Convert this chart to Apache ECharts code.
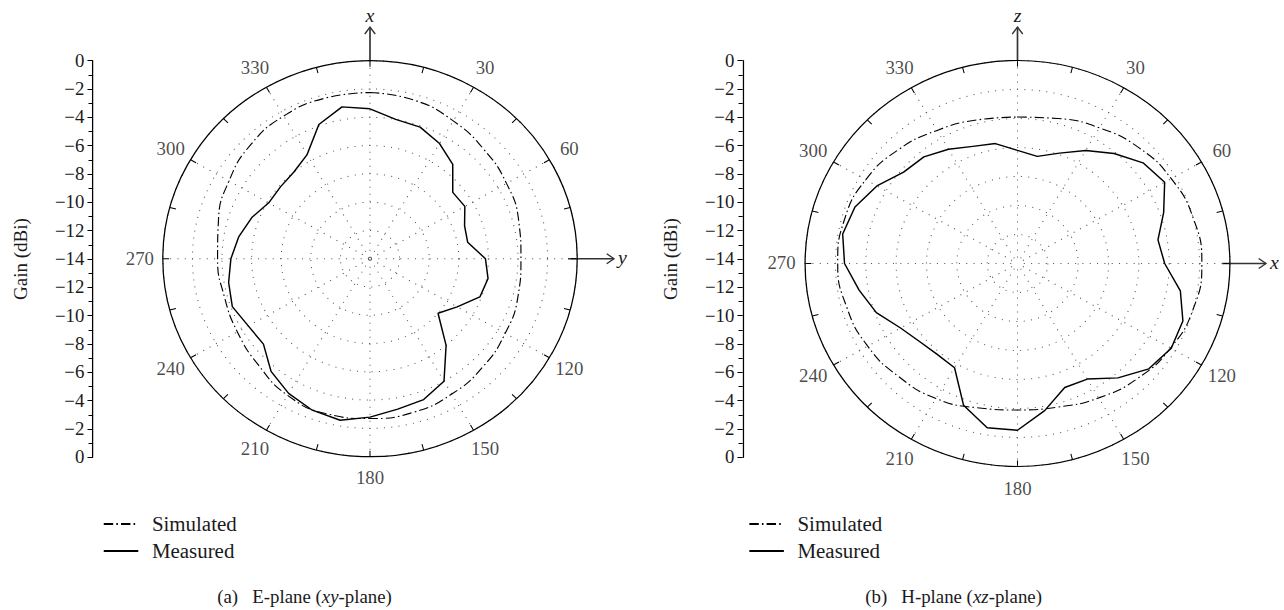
<!DOCTYPE html>
<html>
<head>
<meta charset="utf-8">
<script src="https://cdn.jsdelivr.net/npm/echarts@6/dist/echarts.min.js"></script>
<style>
  html, body { margin: 0; padding: 0; background: #fff; overflow: hidden; }
  /* the printed figure is a little wider than tall, so stretch the whole chart */
  #main { width: 1227px; height: 610px; transform: scaleX(1.0464); transform-origin: 0 0; }
</style>
</head>
<body>
<div id="main"></div>
<script>
// measured points, every 10 degrees
const measAngles = [0, 10, 20, 30, 40, 50, 60, 70, 80, 90, 100, 110, 120, 130, 140, 150, 160, 170,
  180, 190, 200, 210, 220, 230, 240, 250, 260, 270, 280, 290, 300, 310, 320, 330, 340, 350];
const measuredE = [-3.4, -4.0, -4.1, -4.6, -5.3, -6.7, -6.6, -7.2, -7.3, -6.2, -5.9, -6.1, -7.2, -8.0, -6.0, -4.0, -3.4, -3.2,
  -2.8, -2.4, -2.6, -3.0, -3.6, -4.6, -4.5, -4.1, -4.3, -4.6, -5.0, -5.5, -6.1, -6.1, -6.0, -5.5, -3.9, -3.1];
const measuredH = [-6.2, -6.5, -5.9, -5.0, -4.1, -3.2, -2.8, -3.75, -4.6, -4.3, -3.1, -2.4, -2.3, -2.7, -3.7, -4.8, -4.9, -3.7,
  -2.5, -2.5, -3.6, -5.7, -5.8, -5.6, -5.1, -4.1, -3.4, -2.6, -2.3, -2.6, -3.3, -4.2, -4.4, -4.9, -5.4, -5.6];

// simulated curves, read every 15 degrees
const simAngles = [0, 15, 30, 45, 60, 75, 90, 105, 120, 135, 150, 165,
  180, 195, 210, 225, 240, 255, 270, 285, 300, 315, 330, 345];
const simulatedE = [-2.25, -2.4, -2.75, -3.1, -3.35, -3.6, -3.8, -3.65, -3.45, -3.2, -2.95, -2.75,
  -2.7, -2.65, -2.85, -3.35, -3.65, -3.8, -3.7, -3.4, -3.0, -2.6, -2.35, -2.25];
const simulatedH = [-3.9, -3.65, -3.2, -2.7, -2.3, -2.0, -1.85, -2.0, -2.35, -2.8, -3.3, -3.75,
  -3.9, -3.7, -3.25, -2.95, -2.6, -2.35, -2.15, -2.2, -2.45, -2.9, -3.4, -3.75];

// angle labels printed round the rim (0 and 90 carry the axis arrows instead)
const angleLabels = [30, 60, 120, 150, 180, 210, 240, 270, 300, 330];

const serif = 'Liberation Serif';
const ink = '#1a1a1a';
const K = 1.0464; // horizontal stretch applied by css
const labelRadius = 1.55; // dB beyond the rim where the angle labels sit

function loop(angles, vals) {
  const d = angles.map((a, i) => [vals[i], a]);
  d.push([vals[0], 360]);
  return d;
}

function angleAxis(idx) {
  return {
    polarIndex: idx,
    type: 'value',
    min: 0,
    max: 360,
    interval: 30,
    startAngle: 90,
    clockwise: true,
    axisLine: { show: true, lineStyle: { color: '#000', width: 1.2 } },
    axisTick: { show: true, inside: true, length: 6, lineStyle: { color: '#000', width: 1 } },
    minorTick: { show: true, splitNumber: 2, length: 6, lineStyle: { color: '#000', width: 1 } },
    splitLine: { show: true, lineStyle: { color: '#555', width: 1, type: [1, 6] } },
    axisLabel: { show: false }
  };
}

function radiusAxis(idx) {
  return {
    polarIndex: idx,
    type: 'value',
    min: -14,
    max: 0,
    interval: 2,
    axisLine: { show: false },
    axisTick: { show: false },
    axisLabel: { show: false },
    splitLine: { show: true, lineStyle: { color: '#555', width: 1, type: [1, 6] } }
  };
}

function gainAxis(idx) {
  return {
    gridIndex: idx,
    type: 'value',
    min: -14,
    max: 14,
    interval: 2,
    position: 'left',
    axisLine: { show: true, lineStyle: { color: '#000', width: 1.2 } },
    axisTick: { show: true, length: 5, lineStyle: { color: '#000' } },
    minorTick: { show: true, splitNumber: 2, length: 4, lineStyle: { color: '#000' } },
    splitLine: { show: false },
    axisLabel: {
      fontFamily: serif,
      fontSize: 18,
      color: ink,
      margin: 8,
      formatter: v => {
        const g = Math.abs(v) - 14;
        return g === 0 ? '0' : '\u2212' + Math.abs(g);
      }
    },
    name: 'Gain (dBi)',
    nameLocation: 'middle',
    nameGap: 60,
    nameRotate: 90,
    nameTextStyle: { fontFamily: serif, fontSize: 19, color: ink }
  };
}

function simSeries(idx, data) {
  return {
    name: 'Simulated',
    type: 'line',
    coordinateSystem: 'polar',
    polarIndex: idx,
    data: data,
    smooth: true,
    symbol: 'none',
    silent: true,
    itemStyle: { color: '#000' },
    lineStyle: { color: '#000', width: 1.1, type: [9, 3, 1.5, 3] }
  };
}

function measSeries(idx, data) {
  return {
    name: 'Measured',
    type: 'line',
    coordinateSystem: 'polar',
    polarIndex: idx,
    data: data,
    symbol: 'none',
    silent: true,
    z: 3,
    itemStyle: { color: '#000' },
    lineStyle: { color: '#000', width: 1.4 }
  };
}

// rim labels: invisible points just outside the circle, labelled with their angle
function rimLabels(idx) {
  return {
    type: 'scatter',
    coordinateSystem: 'polar',
    polarIndex: idx,
    clip: false,
    silent: true,
    symbolSize: 1,
    itemStyle: { color: 'transparent' },
    data: angleLabels.map(a => [labelRadius, a]),
    label: {
      show: true,
      position: 'inside',
      formatter: p => String(p.value[1]),
      fontFamily: serif,
      fontSize: 18,
      color: ink
    }
  };
}

function legend(left) {
  return {
    data: ['Simulated', 'Measured'],
    orient: 'vertical',
    left: left,
    top: 509,
    itemWidth: 33,
    itemHeight: 14,
    itemGap: 7,
    selectedMode: false,
    itemStyle: { opacity: 0 },
    textStyle: { fontFamily: serif, fontSize: 20, color: ink, padding: [0, 0, 0, 8] }
  };
}

function caption(left, text) {
  return {
    text: text,
    left: left,
    top: 583,
    textStyle: {
      fontFamily: serif,
      fontSize: 18,
      fontWeight: 'normal',
      color: ink,
      rich: { i: { fontFamily: serif, fontStyle: 'italic', fontSize: 18, color: ink } }
    }
  };
}

// axis arrows drawn as plain decoration
function arrowUp(x, y1, y2, label) {
  return [
    { type: 'line', shape: { x1: x, y1: y1, x2: x, y2: y2 }, style: { stroke: '#333', lineWidth: 1.6 } },
    { type: 'polyline', shape: { points: [[x - 5, y2 + 7], [x, y2], [x + 5, y2 + 7]] }, style: { stroke: '#333', lineWidth: 1.3, fill: null } },
    { type: 'text', x: x, y: y2 - 11, style: { text: label, fontFamily: serif, fontStyle: 'italic', fontSize: 19, fill: ink, align: 'center', verticalAlign: 'middle' } }
  ];
}
function arrowRight(y, x1, x2, label) {
  return [
    { type: 'line', shape: { x1: x1, y1: y, x2: x2, y2: y }, style: { stroke: '#333', lineWidth: 1.6 } },
    { type: 'polyline', shape: { points: [[x2 - 7, y - 5], [x2, y], [x2 - 7, y + 5]] }, style: { stroke: '#333', lineWidth: 1.3, fill: null } },
    { type: 'text', x: x2 + 8, y: y - 1, style: { text: label, fontFamily: serif, fontStyle: 'italic', fontSize: 19, fill: ink, align: 'center', verticalAlign: 'middle' } }
  ];
}

const chart = echarts.init(document.getElementById('main'), null, { renderer: 'svg' });

chart.setOption({
  animation: false,
  backgroundColor: '#fff',
  polar: [
    { center: [370 / K, 258.7], radius: 198 },
    { center: [1017.5 / K, 263.5], radius: 203 }
  ],
  angleAxis: [angleAxis(0), angleAxis(1)],
  radiusAxis: [radiusAxis(0), radiusAxis(1)],
  grid: [
    { left: 92.7 / K, top: 60.7, width: 1, height: 396.6 },
    { left: 742.7 / K, top: 60.7, width: 1, height: 396.6 }
  ],
  xAxis: [
    { gridIndex: 0, type: 'value', show: false },
    { gridIndex: 1, type: 'value', show: false }
  ],
  yAxis: [gainAxis(0), gainAxis(1)],
  legend: [legend(102.7 / K - 5), legend(748.3 / K - 5)],
  title: [
    caption(212 / K, '(a)   E-plane ({i|xy}-plane)'),
    caption(860 / K, '(b)   H-plane ({i|xz}-plane)')
  ],
  graphic: [].concat(
    arrowUp(370 / K, 61, 27, 'x'),
    arrowRight(258.7, 568 / K, 614 / K, 'y'),
    arrowUp(1017.5 / K, 60, 27, 'z'),
    arrowRight(263.5, 1222 / K, 1266 / K, 'x')
  ),
  series: [
    simSeries(0, loop(simAngles, simulatedE)),
    measSeries(0, loop(measAngles, measuredE)),
    rimLabels(0),
    simSeries(1, loop(simAngles, simulatedH)),
    measSeries(1, loop(measAngles, measuredH)),
    rimLabels(1)
  ]
});
</script>
</body>
</html>
